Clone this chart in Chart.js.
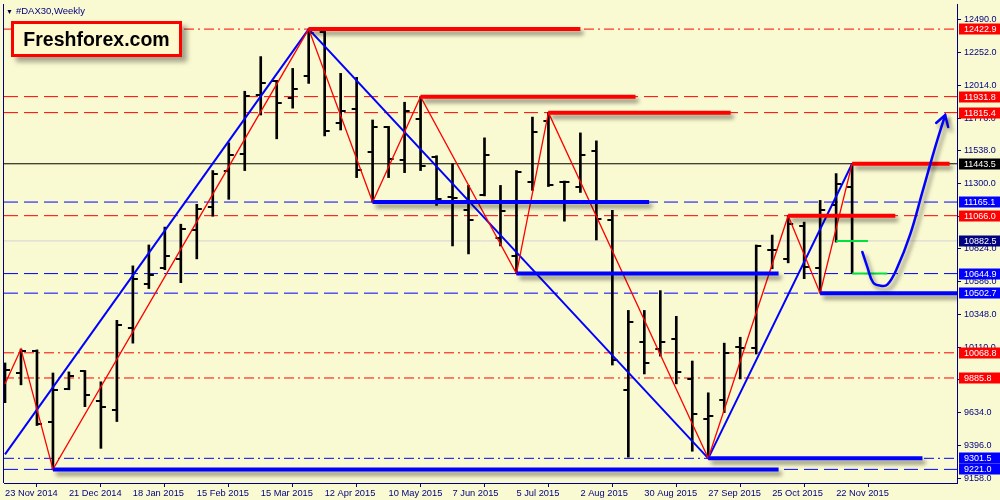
<!DOCTYPE html>
<html>
<head>
<meta charset="utf-8">
<script src="https://cdn.jsdelivr.net/npm/chart.js@4.4.1/dist/chart.umd.min.js"></script>
<style>
  body { margin: 0; background: #fafad2; }
  #wrap { position: relative; width: 1000px; height: 500px; }
  #title { position: absolute; left: 6px; top: 5px; font: 9.5px "Liberation Sans", sans-serif; color: #000080; white-space: nowrap; }
  #title .tri { font-size: 7px; color: #000040; margin-right: 3px; }
  #logo {
    position: absolute; left: 11px; top: 21px; width: 165px; height: 30px;
    border: 3px solid #ff0000; background: #fffacd; color: #000;
    font: bold 19.5px "Liberation Sans", Arial, sans-serif; text-align: center; line-height: 30px;
    box-shadow: 5px 5px 5px rgba(0, 0, 0, 0.35);
  }
</style>
</head>
<body>
<div id="wrap">
  <canvas id="c" width="1000" height="500"></canvas>
  <div id="title"><span class="tri">&#9660;</span>#DAX30,Weekly</div>
  <div id="logo">Freshforex.com</div>
</div>
<script>
// weekly bars, index 0 = week of 23 Nov 2014
const opens  = [9865, 9922, 10081, 9562, 9807, 9937, 9721, 9656, 10247, 10572, 10687, 10752, 10961, 11127, 11394, 11516, 11942, 12043, 11920, 12079,
  12403, 11740, 11841, 11531, 11711, 11473, 11769, 11495, 11199, 11105, 11213, 10903, 10774, 11314, 11754, 11314, 11278, 11538, 11033, 9800,
  10146, 10096, 10168, 9879, 9591, 9728, 10110, 10103, 10817, 10752, 10990, 10687, 11141, 11271];
const highs  = [9995, 10096, 10090, 9922, 9930, 9940, 9858, 10305, 10701, 10853, 10983, 11004, 11149, 11394, 11596, 11971, 12223, 12050, 12137, 12422.9,
  12411, 12101, 12072, 11762, 11715, 11891, 11931.8, 11502, 11444, 11286, 11632, 11286, 11394, 11783, 11815.4, 11318, 11668, 11610, 11105, 10377,
  10377, 10521, 10334, 10009, 9778, 10139, 10182, 10853, 10925, 11066.0, 11019, 11177, 11372, 11443.5];
const lows   = [9706, 9836, 9540, 9221, 9800, 9677, 9374, 9569, 10139, 10536, 10673, 10579, 10752, 11062, 11185, 11394, 11798, 11625, 11848, 12028,
  11646, 11689, 11343, 11165.1, 11343, 11379, 11394, 11141, 10846, 10788, 11210, 10846, 10644.9, 11250, 11278, 11026, 11235, 10889, 9980, 9310,
  9915, 10045, 9843, 9353, 9301.5, 9634, 9879, 10060, 10680, 10723, 10608, 10502.7, 10874, 10644.9];
const closes = [9944, 10081, 9548, 9800, 9901, 9764, 9677, 10269, 10608, 10636, 10774, 10968, 11112, 11372, 11509, 11935, 12028, 11884, 11985, 12396,
  11682, 11826, 11401, 11711, 11480, 11826, 11430, 11185, 11195, 11033, 11509, 11098, 11387, 11675, 11286, 11312, 11509, 11040, 10016, 10290,
  9995, 10146, 9930, 9627, 9612, 10067, 10103, 10846, 10817, 11004, 10694, 11105, 11293, 10882.5];

const dateTicks  = [0, 4, 8, 12, 16, 20, 24, 28, 32, 36, 40, 44, 48, 52];
const dateLabels = ['23 Nov 2014', '21 Dec 2014', '18 Jan 2015', '15 Feb 2015', '15 Mar 2015', '12 Apr 2015', '10 May 2015',
  '7 Jun 2015', '5 Jul 2015', '2 Aug 2015', '30 Aug 2015', '27 Sep 2015', '25 Oct 2015', '22 Nov 2015'];
const priceTicks = [12490, 12252, 12014, 11776, 11538, 11300, 11062, 10824, 10586, 10348, 10110, 9872, 9634, 9396, 9158];

// horizontal levels marked on the price axis
const levels = [12422.9, 11931.8, 11815.4, 11443.5, 11165.1, 11066.0, 10882.5, 10644.9, 10502.7, 10068.8, 9885.8, 9301.5, 9221.0];

// zigzags (bar index, price)
const redZigX = [0, 1, 3, 19, 23, 26, 32, 34, 44, 49, 51, 53];
const redZigY = [9843, 10096, 9221.0, 12422.9, 11165.1, 11931.8, 10644.9, 11815.4, 9301.5, 11066.0, 10502.7, 11443.5];
const blueZigX = [0, 19, 44, 53];
const blueZigY = [9330, 12422.9, 9301.5, 11443.5];

// thick support / resistance segments
const segLevel = [12422.9, 11931.8, 11815.4, 11443.5, 11066.0, 11165.1, 10644.9, 10502.7, 9301.5, 9221.0];
const segFrom  = [19, 26, 34, 53, 49, 23, 32, 51, 44, 3];
const segTo    = [36, 39.45, 45.4, 59.1, 55.7, 40.3, 48.4, 60, 57.4, 48.4];
const greenLevel = [10882.5, 10644.9];
const greenFrom  = [52, 53];
const greenTo    = [54, 55.2];

// forecast arrow
const arrowX = [53.64, 53.95, 54.32, 54.76, 55.2, 55.82, 56.64, 57.39, 58.13, 58.82];
const arrowY = [10802, 10694, 10579, 10557, 10564, 10687, 10932, 11235, 11538, 11798];
const headX = [58.26, 58.82, 59.01];
const headY = [11740, 11798, 11711];

const navy = '#000080';
const red = '#ff0000';
const blue = '#0000ff';
const X_MIN = -0.0625, X_MAX = 59.5625;
const DASH = [14, 6];
const DASHDOT = [10, 4, 2, 4];

const levelStyle = [
  [red, DASHDOT], [red, DASH], [red, DASH], ['#000000', []], [blue, DASH], [red, DASH], ['#d3d3d3', []],
  [blue, DASH], [blue, DASH], [red, DASHDOT], [red, DASHDOT], [blue, DASHDOT], [blue, DASH]
];
const tagColors = [red, red, red, '#000000', blue, red, navy, blue, blue, red, red, blue, blue];

function tickImage(left) {
  const c = document.createElement('canvas');
  c.width = 12;
  c.height = 2;
  const g = c.getContext('2d');
  g.fillStyle = '#000';
  if (left) g.fillRect(1, 0, 5, 2);
  else g.fillRect(6, 0, 5, 2);
  return c;
}

function pts(xs, ys) {
  return xs.map((x, i) => ({ x: x, y: ys[i] }));
}

function lineSet(data, color, width, extra) {
  return Object.assign({
    type: 'line', data: data, borderColor: color, borderWidth: width,
    pointRadius: 0, fill: false, tension: 0
  }, extra || {});
}

const datasets = [];

levels.forEach((v, i) => {
  datasets.push(lineSet([{ x: X_MIN, y: v }, { x: X_MAX, y: v }], levelStyle[i][0], 1,
    { borderDash: levelStyle[i][1], order: 20 }));
});

datasets.push({
  type: 'bar',
  data: lows.map((l, i) => ({ x: i, y: [l, highs[i]] })),
  backgroundColor: '#000',
  borderWidth: 0,
  barThickness: 2,
  order: 15
});
const openImg = tickImage(true), closeImg = tickImage(false);
datasets.push(lineSet(opens.map((o, i) => ({ x: i, y: o })), '#000', 0,
  { showLine: false, pointStyle: openImg, pointRadius: 3, order: 14 }));
datasets.push(lineSet(closes.map((c, i) => ({ x: i, y: c })), '#000', 0,
  { showLine: false, pointStyle: closeImg, pointRadius: 3, order: 14 }));

datasets.push(lineSet(pts(blueZigX, blueZigY), blue, 2, { order: 9 }));
datasets.push(lineSet(pts(redZigX, redZigY), red, 1.3, { order: 8 }));

segLevel.forEach((v, i) => {
  datasets.push(lineSet([{ x: segFrom[i], y: v }, { x: segTo[i], y: v }], i < 5 ? red : blue, 4,
    { order: 5, shadow: true, borderCapStyle: 'butt' }));
});
greenLevel.forEach((v, i) => {
  datasets.push(lineSet([{ x: greenFrom[i], y: v }, { x: greenTo[i], y: v }], '#00e040', 2, { order: 4 }));
});

datasets.push(lineSet(pts(arrowX, arrowY), blue, 2.5, { order: 2, tension: 0.4, shadow: true, borderCapStyle: 'round' }));
datasets.push(lineSet(pts(headX, headY), blue, 2.5, { order: 2, shadow: true, borderCapStyle: 'round' }));

const shadowPlugin = {
  id: 'shadow',
  beforeDatasetDraw(chart, args) {
    if (!chart.data.datasets[args.index].shadow) return;
    const ctx = chart.ctx;
    ctx.save();
    ctx.shadowColor = 'rgba(0,0,0,0.45)';
    ctx.shadowBlur = 4;
    ctx.shadowOffsetX = 3;
    ctx.shadowOffsetY = 4;
  },
  afterDatasetDraw(chart, args) {
    if (chart.data.datasets[args.index].shadow) chart.ctx.restore();
  }
};

const tagPlugin = {
  id: 'tags',
  afterDraw(chart) {
    const ctx = chart.ctx;
    const area = chart.chartArea;
    const y = chart.scales.y;
    ctx.save();
    ctx.strokeStyle = navy;
    ctx.lineWidth = 1;
    ctx.beginPath();
    ctx.moveTo(area.left - 0.5, area.top);
    ctx.lineTo(area.left - 0.5, area.bottom);
    ctx.stroke();
    ctx.font = '9px "Liberation Sans"';
    ctx.textBaseline = 'middle';
    levels.forEach((v, i) => {
      const py = Math.round(y.getPixelForValue(v));
      ctx.fillStyle = tagColors[i];
      ctx.fillRect(area.right + 2, py - 5.5, chart.width - area.right - 2, 11);
      ctx.fillStyle = '#ffffff';
      ctx.fillText(v.toFixed(1), area.right + 7, py + 0.5);
    });
    ctx.restore();
  }
};

function noPad(s) {
  s.paddingTop = 0;
  s.paddingBottom = 0;
  s.paddingLeft = 0;
  s.paddingRight = 0;
}

new Chart(document.getElementById('c'), {
  type: 'line',
  data: { datasets: datasets },
  options: {
    responsive: false,
    animation: false,
    devicePixelRatio: 1,
    events: [],
    layout: { padding: { left: 3, right: 0, top: 0, bottom: 0 } },
    plugins: { legend: { display: false }, tooltip: { enabled: false } },
    scales: {
      x: {
        type: 'linear',
        min: X_MIN,
        max: X_MAX,
        offset: false,
        grid: { drawOnChartArea: false, tickLength: 4, color: navy },
        border: { color: navy, width: 1 },
        ticks: {
          color: navy,
          font: { family: 'Liberation Sans', size: 9.3 },
          align: 'start',
          padding: 1,
          maxRotation: 0,
          autoSkip: false,
          callback: (v, i) => dateLabels[i]
        },
        afterBuildTicks: s => { s.ticks = dateTicks.map(v => ({ value: v })); },
        afterFit: s => { s.height = 17; noPad(s); }
      },
      y: {
        type: 'linear',
        position: 'right',
        min: 9122.0,
        max: 12605.4,
        grid: { drawOnChartArea: false, tickLength: 4, color: navy },
        border: { color: navy, width: 1 },
        ticks: {
          color: navy,
          font: { family: 'Liberation Sans', size: 9 },
          padding: 3,
          autoSkip: false,
          callback: v => v.toFixed(1)
        },
        afterBuildTicks: s => { s.ticks = priceTicks.map(v => ({ value: v })); },
        afterFit: s => { s.width = 43; noPad(s); }
      }
    }
  },
  plugins: [shadowPlugin, tagPlugin]
});
</script>
</body>
</html>
